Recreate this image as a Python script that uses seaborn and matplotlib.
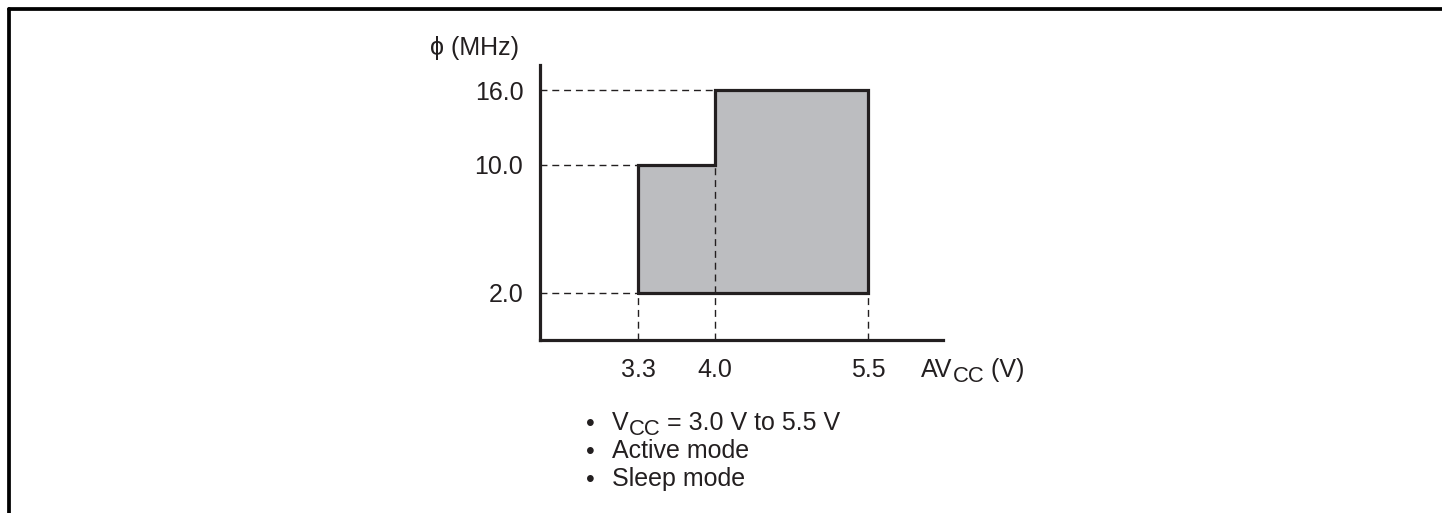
import numpy as np
import pandas as pd
import matplotlib
matplotlib.use("Agg")
import matplotlib.pyplot as plt
import seaborn as sns
from matplotlib.lines import Line2D

# ---- data ----
step_x = [3.3, 4.0, 5.5]          # AVcc breakpoints (V)
step_upper = [10.0, 16.0]         # max frequency on each interval (MHz)
freq_min = 2.0                    # min frequency (MHz)
y_ticks = [2.0, 10.0, 16.0]
y_tick_labels = ["2.0", "10.0", "16.0"]
x_ticks = [3.3, 4.0, 5.5]
x_tick_labels = ["3.3", "4.0", "5.5"]
x_label_parts = [("AV", False), ("CC", True), (" (V)", False)]
y_label = "ϕ (MHz)"
notes = [[("V", False), ("CC", True), (" = 3.0 V to 5.5 V", False)],
         [("Active mode", False)],
         [("Sleep mode", False)]]

sns.set_theme(style="white")
plt.rcParams["font.family"] = ["Liberation Sans", "DejaVu Sans"]

FS = 18
TC = "#231f20"
W, H = 1442, 513
fig = plt.figure(figsize=(W / 100, H / 100), dpi=100)
fig.patch.set_facecolor("white")

def fx(px):
    return px / W

def fy(py):
    return 1 - py / H

# axes placement (pixels)
ax_l, ax_r, ax_t, ax_b = 540, 943, 65, 340
ax = fig.add_axes([fx(ax_l), fy(ax_b), fx(ax_r) - fx(ax_l), fy(ax_t) - fy(ax_b)])

# schematic (non-linear) scales as drawn in the datasheet
vk_y = [-0.94, 2.0, 10.0, 16.0, 18.0]
pk_y = [0, 47, 175, 250, 275]
vk_x = [2.41, 3.3, 4.0, 5.5, 6.235]
pk_x = [0, 98, 175, 328, 403]
ax.set_yscale("function", functions=(lambda v: np.interp(v, vk_y, pk_y),
                                     lambda p: np.interp(p, pk_y, vk_y)))
ax.set_xscale("function", functions=(lambda v: np.interp(v, vk_x, pk_x),
                                     lambda p: np.interp(p, pk_x, vk_x)))
ax.set_xlim(vk_x[0], vk_x[-1])
ax.set_ylim(vk_y[0], vk_y[-1])

# filled region
fill_upper = step_upper + [step_upper[-1]]
ax.fill_between(step_x, freq_min, fill_upper, step="post", color="#bcbdc0", lw=0, zorder=1)

# outline
ox, oy = [step_x[0]], [freq_min]
for i in range(len(step_upper)):
    ox += [step_x[i], step_x[i + 1]]
    oy += [step_upper[i], step_upper[i]]
ox += [step_x[-1], step_x[0]]
oy += [freq_min, freq_min]
outline = pd.DataFrame({"x": ox, "y": oy})
sns.lineplot(data=outline, x="x", y="y", sort=False, estimator=None,
             color=TC, lw=2.3, ax=ax, zorder=3, solid_joinstyle="miter")

dash = dict(color=TC, lw=1.0, ls=(0, (5, 3.5)), zorder=2)
# horizontal guides: from axis to left edge of region at each tick level
for yv in y_ticks:
    xe = next(step_x[i] for i in range(len(step_upper)) if step_upper[i] >= yv)
    ax.plot([vk_x[0], xe], [yv, yv], **dash)
# vertical guides: from axis up to lower end of outline at each x tick
uppers_ext = [freq_min] + step_upper + [freq_min]
for i, xv in enumerate(step_x):
    ye = min(uppers_ext[i], uppers_ext[i + 1])
    ax.plot([xv, xv], [vk_y[0], ye], **dash)

# axes style
for s in ["top", "right"]:
    ax.spines[s].set_visible(False)
for s in ["left", "bottom"]:
    ax.spines[s].set_linewidth(2.3)
    ax.spines[s].set_color(TC)
ax.set_facecolor("none")
ax.set_yticks(y_ticks, y_tick_labels)
ax.set_xticks(x_ticks, x_tick_labels)
ax.tick_params(axis="both", length=0, labelsize=FS, colors=TC)
ax.tick_params(axis="y", pad=12)
ax.tick_params(axis="x", pad=13)
ax.set_xlabel("")
ax.set_ylabel("")

renderer = fig.canvas.get_renderer()

def rich_text(x_px, y_px, parts):
    """Draw text pieces left to right; subscript pieces smaller and lowered."""
    cur = x_px
    for txt, sub in parts:
        size = FS * 0.88 if sub else FS
        dy = -5 if sub else 0
        t = fig.text(fx(cur), fy(y_px - dy), txt, ha="left", va="baseline",
                     fontsize=size, color=TC)
        bb = t.get_window_extent(renderer)
        cur += bb.width

fig.text(fx(519), fy(55), y_label, ha="right", va="baseline", fontsize=FS, color=TC)
rich_text(921, 377, x_label_parts)

for k, note in enumerate(notes):
    yb = 430 + 28 * k
    fig.text(fx(586), fy(yb + 1), "•", ha="left", va="baseline", fontsize=FS, color=TC)
    rich_text(612, yb, note)

# frame border (left and top)
fig.add_artist(Line2D([fx(9), fx(9)], [fy(513), fy(9)], color="black", lw=2.7, transform=fig.transFigure))
fig.add_artist(Line2D([fx(9), fx(1442)], [fy(9), fy(9)], color="black", lw=2.7, transform=fig.transFigure))

fig.savefig("out.png", dpi=100, facecolor="white")
